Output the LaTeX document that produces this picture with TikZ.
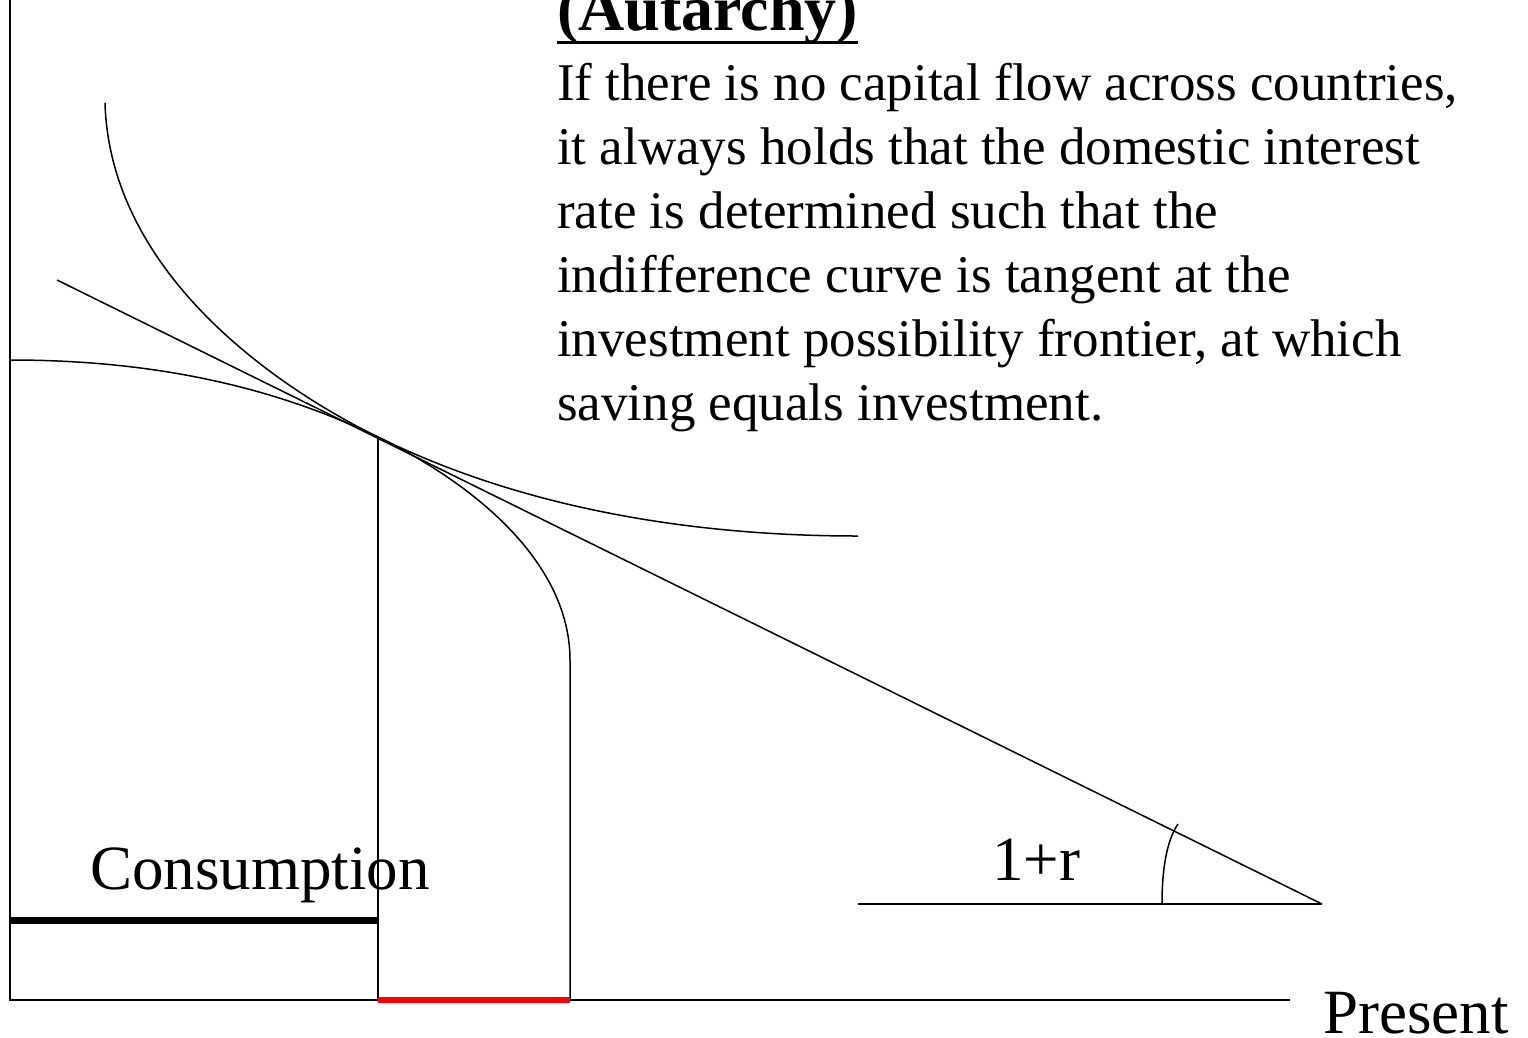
\documentclass[tikz,border=0pt]{standalone}
\usepackage{fontspec}
\setmainfont{Liberation Serif}
\begin{document}
\begin{tikzpicture}[x=1pt,y=-1pt,
  thin line/.style={line width=1.5pt, black},
  big/.style={font=\fontsize{63}{70}\selectfont, inner sep=0pt},
  body/.style={font=\fontsize{53}{64}\selectfont, inner sep=0pt, align=left}]
\useasboundingbox (0,0) rectangle (1528,1037);
% axes
\coordinate (O) at (10,1000);
\coordinate (ytop) at (10,0);
\coordinate (xend) at (1290,1000);
\draw[thin line] (ytop) -- (O) -- (xend);
% tangent point and other coordinates
\coordinate (T) at (378,437);
\coordinate (Tbase) at (378,1000);
\coordinate (ppfstart) at (10,360);
\coordinate (ppfend) at (570,660);
\coordinate (ppfbase) at (570,1000);
\coordinate (icstart) at (105,103);
\coordinate (icend) at (858,536);
\coordinate (lstart) at (57,280);
\coordinate (apex) at (1322,904);
\coordinate (hstart) at (858,904);
\coordinate (arcbot) at (1162,904);
\coordinate (arctop) at (1178,824);
\coordinate (cl) at (10,920);
% PPF
\draw[thin line] (ppfstart) .. controls (150,360) and (270,385) .. (T)
  .. controls (488,491) and (570,570) .. (ppfend) -- (ppfbase);
% indifference curve
\draw[thin line] (icstart) .. controls (110,270) and (270,384) .. (T)
  .. controls (528,511) and (700,536) .. (icend);
% budget / tangent line
\draw[thin line] (lstart) -- (apex);
% vertical at tangent point
\draw[thin line] (T) -- (Tbase);
% slope marker
\draw[thin line] (hstart) -- (apex);
\draw[thin line] (arcbot) .. controls (1162,868) and (1167,840) .. (arctop);
% consumption & investment bars
\draw[line width=7pt, black] (cl) -- (T |- cl);
\draw[line width=6pt, red] (Tbase) -- (ppfbase);
% labels
\node[big, anchor=base west] (cons) at (90,889) {Consumption};
\node[big, anchor=base west] (pres) at (1323,1033) {Present};
\node[big, anchor=base west] (slope) at (992,880) {1+r};
\node[font=\fontsize{64}{70}\selectfont\bfseries, inner sep=0pt, anchor=base west] (title) at (557,30) {(Autarchy)};
\draw[line width=3pt] ([yshift=-12pt]title.base west) -- ([yshift=-12pt]title.base east);
\node[body, anchor=north west] (text) at (557,63) {If there is no capital flow across countries,\\
it always holds that the domestic interest\\
rate is determined such that the\\
indifference curve is tangent at the\\
investment possibility frontier, at which\\
saving equals investment.};
\end{tikzpicture}
\end{document}
